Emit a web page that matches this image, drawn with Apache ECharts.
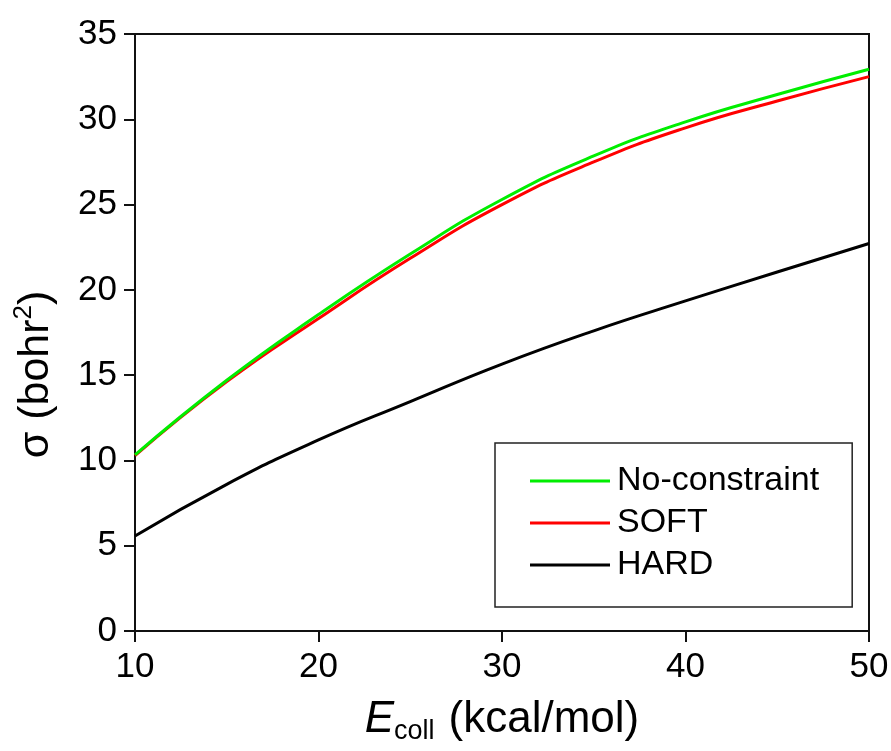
<!DOCTYPE html>
<html>
<head>
<meta charset="utf-8">
<script src="https://cdn.jsdelivr.net/npm/echarts@6/dist/echarts.min.js"></script>
<style>html,body{margin:0;padding:0;background:#fff;}#c{width:891px;height:751px;}</style>
</head>
<body>
<div id="c"></div>
<script>
const energies = [10, 15, 20, 25, 30, 35, 40, 45, 50];
const noConstraint = [10.32, 14.7, 18.55, 22.1, 25.3, 27.85, 29.85, 31.45, 32.93];
const soft = [10.28, 14.62, 18.32, 21.85, 25.0, 27.5, 29.5, 31.07, 32.5];
const hard = [5.57, 8.6, 11.2, 13.45, 15.65, 17.6, 19.35, 21.05, 22.72];
const seriesNames = ['No-constraint', 'SOFT', 'HARD'];
const xTicks = [10, 20, 30, 40, 50];
const yTicks = [0, 5, 10, 15, 20, 25, 30, 35];

const font = 'Liberation Sans, Arial, sans-serif';
const pair = arr => energies.map((e, i) => [e, arr[i]]);
const chart = echarts.init(document.getElementById('c'));
chart.setOption({
  animation: false,
  backgroundColor: '#fff',
  grid: { left: 135, right: 22, top: 34, bottom: 120, containLabel: false, outerBoundsMode: 'none',
    show: true, borderColor: '#111', borderWidth: 2 },
  xAxis: {
    type: 'value', min: 10, max: 50, interval: 10,
    axisLine: { lineStyle: { color: '#111', width: 2 } },
    axisTick: { show: true, length: 11, lineStyle: { color: '#111', width: 2 } },
    axisLabel: { color: '#000', fontSize: 35, fontFamily: font, margin: 19,
      formatter: v => xTicks.includes(v) ? String(v) : '' },
    splitLine: { show: false },
    name: '{e|E}{sub|coll}{t|(kcal/mol)}',
    nameLocation: 'middle', nameGap: 64,
    nameTextStyle: {
      rich: {
        e: { fontSize: 44, fontStyle: 'italic', fontFamily: font, color: '#000', lineHeight: 50 },
        sub: { fontSize: 27, fontFamily: font, color: '#000', verticalAlign: 'bottom', padding: [22, 0, 0, 0], lineHeight: 50 },
        t: { fontSize: 44, fontFamily: font, color: '#000', lineHeight: 50, padding: [0, 0, 0, 14] }
      }
    }
  },
  yAxis: {
    type: 'value', min: 0, max: 35, interval: 5,
    axisLine: { lineStyle: { color: '#111', width: 2 } },
    axisTick: { show: true, length: 11, lineStyle: { color: '#111', width: 2 } },
    axisLabel: { color: '#000', fontSize: 35, fontFamily: font, margin: 18,
      formatter: v => yTicks.includes(v) ? String(v) : '' },
    splitLine: { show: false },
    name: '{t|σ (bohr}{sup|2}{t|)}',
    nameLocation: 'middle', nameGap: 74,
    nameTextStyle: {
      padding: [0, 84, 0, 0],
      rich: {
        t: { fontSize: 43, fontFamily: font, color: '#000', lineHeight: 50 },
        sup: { fontSize: 26, fontFamily: font, color: '#000', verticalAlign: 'top', padding: [0, 0, 22, 0], lineHeight: 50 }
      }
    }
  },
  legend: {
    data: seriesNames,
    orient: 'vertical',
    left: 495, top: 443,
    padding: [17, 33, 21, 35],
    itemGap: 0,
    icon: 'rect',
    itemWidth: 80, itemHeight: 3,
    borderColor: '#222', borderWidth: 1.5,
    backgroundColor: '#fff',
    textStyle: { fontSize: 34, fontFamily: font, color: '#000', lineHeight: 42, padding: [0, 0, 0, 2] }
  },
  series: [
    { name: seriesNames[2], type: 'line', data: pair(hard), smooth: 0.5, symbol: 'none',
      lineStyle: { color: '#000', width: 3 }, itemStyle: { color: '#000' } },
    { name: seriesNames[1], type: 'line', data: pair(soft), smooth: 0.5, symbol: 'none',
      lineStyle: { color: '#ff0000', width: 3 }, itemStyle: { color: '#ff0000' } },
    { name: seriesNames[0], type: 'line', data: pair(noConstraint), smooth: 0.5, symbol: 'none',
      lineStyle: { color: '#00ee00', width: 3 }, itemStyle: { color: '#00ee00' } }
  ]
});
</script>
</body>
</html>
